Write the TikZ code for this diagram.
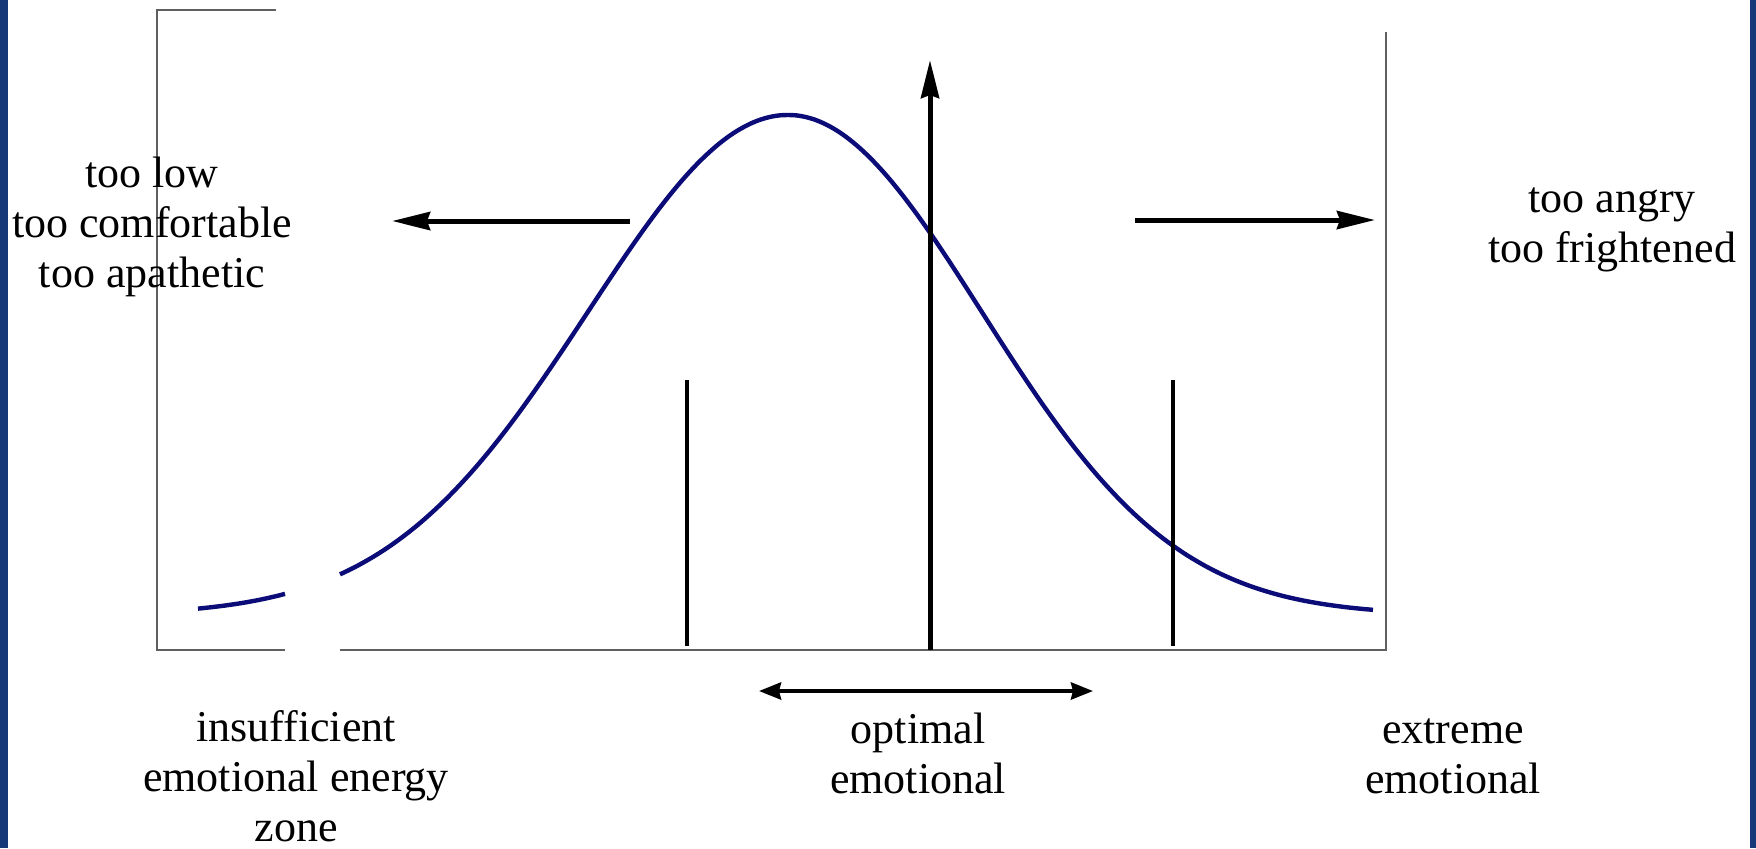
\documentclass[tikz,border=0pt]{standalone}
\usepackage{fontspec}
\setmainfont{Liberation Serif}
\usetikzlibrary{arrows.meta}
\definecolor{navyedge}{RGB}{22,55,120}
\definecolor{curveblue}{RGB}{12,12,120}
\definecolor{framegray}{RGB}{95,95,95}
\begin{document}
\begin{tikzpicture}[x=0.5pt,y=-0.5pt,
  frame/.style={draw=framegray, line width=1.2pt},
  curve/.style={draw=curveblue, line width=2.2pt, line join=round},
  bigarrow/.style={draw=black, line width=2.5pt, -{Stealth[length=19pt,width=9pt,inset=1.5pt]}},
  dblarrow/.style={draw=black, line width=2pt, {Stealth[length=11pt,width=8.5pt,inset=1pt]}-{Stealth[length=11pt,width=8.5pt,inset=1pt]}},
  zoneline/.style={draw=black, line width=2pt},
  lbl/.style={align=center, inner sep=0pt, font=\fontsize{22pt}{25pt}\selectfont}]
\useasboundingbox (0,0) rectangle (1756,848);
\fill[white] (0,0) rectangle (1756,848);
\fill[navyedge] (0,0) rectangle (8,848);
\fill[navyedge] (1750,0) rectangle (1756,848);
% frame
\coordinate (tstub) at (276,10);
\coordinate (tl) at (157,10);
\coordinate (bl) at (157,650);
\coordinate (gapL) at (285,650);
\coordinate (gapR) at (340,650);
\coordinate (br) at (1386,650);
\coordinate (tr) at (1386,32);
\draw[frame] (tstub) -- (tl) -- (bl) -- (gapL);
\draw[frame] (gapR) -- (br) -- (tr);
% bell curve
\draw[curve] plot[domain=198:285, samples=20, smooth] (\x, {615-500*exp(-((\x-788)/100)^2/8)});
\draw[curve] plot[domain=340:788, samples=60, smooth] (\x, {615-500*exp(-((\x-788)/100)^2/8)})
  -- plot[domain=788:1373, samples=70, smooth] (\x, {615-500*exp(-((\x-788)/100)^2/7.5)});
% zone boundaries
\coordinate (z1t) at (687,380); \coordinate (z1b) at (687,646);
\coordinate (z2t) at (1173,380); \coordinate (z2b) at (1173,646);
\draw[zoneline] (z1t) -- (z1b);
\draw[zoneline] (z2t) -- (z2b);
% arrows
\coordinate (upBot) at (930,650); \coordinate (upTop) at (930,60);
\draw[bigarrow] (upBot) -- (upTop);
\coordinate (lTail) at (630,221); \coordinate (lTip) at (392,221);
\draw[bigarrow] (lTail) -- (lTip);
\coordinate (rTail) at (1135,220); \coordinate (rTip) at (1375,220);
\draw[bigarrow] (rTail) -- (rTip);
\coordinate (dL) at (759,691); \coordinate (dR) at (1093,691);
\draw[dblarrow] (dL) -- (dR);
% labels (base anchor = baseline of last line)
\node[lbl, anchor=base] (lowtxt) at (152,287) {too low\\too comfortable\\too apathetic};
\node[lbl, anchor=base] (hightxt) at (1612,262) {too angry\\too frightened};
\node[lbl, anchor=base] (insuf) at (296,841) {insufficient\\emotional energy\\zone};
\node[lbl, anchor=base] (optim) at (918,793) {optimal\\emotional};
\node[lbl, anchor=base] (extr) at (1453,793) {extreme\\emotional};
\end{tikzpicture}
\end{document}
